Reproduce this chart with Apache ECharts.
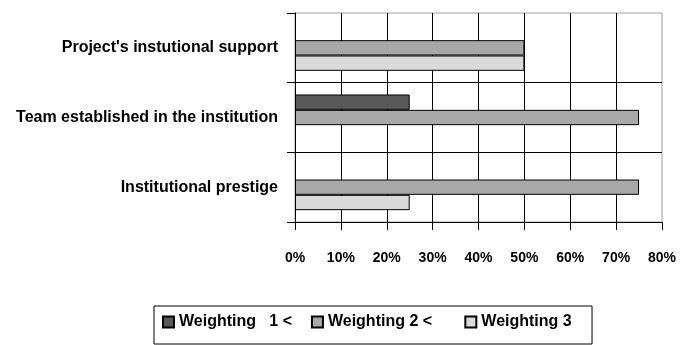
<!DOCTYPE html>
<html>
<head>
<meta charset="utf-8">
<script src="https://cdn.jsdelivr.net/npm/echarts@6/dist/echarts.min.js"></script>
<style>
  html, body { margin: 0; padding: 0; background: #fff; }
  #chart { width: 680px; height: 345px; }
</style>
</head>
<body>
<div id="chart"></div>
<script>
// Categories listed top to bottom
const categories = [
  "Project's instutional support",
  'Team established in the institution',
  'Institutional prestige'
];
const seriesNames = ['Weighting   1 <', 'Weighting 2 <', 'Weighting 3'];
const weighting1 = [0, 25, 0];
const weighting2 = [50, 75, 75];
const weighting3 = [50, 0, 25];
const xTicks = [0, 10, 20, 30, 40, 50, 60, 70, 80];

const FONT = "'Liberation Sans', Arial, sans-serif";
const colors = ['#595959', '#a8a8a8', '#dadada'];
// trailing space after each legend entry
const legendPads = ['  ', '     ', '   '];

const chart = echarts.init(document.getElementById('chart'), null, { renderer: 'canvas' });

// zero shares are left empty so no outline is drawn for them
const values = [weighting1, weighting2, weighting3].map(arr => arr.map(v => (v === 0 ? '-' : v)));

chart.setOption({
  animation: false,
  backgroundColor: '#fff',
  grid: {
    left: 295, right: 18, top: 13, bottom: 123,
    containLabel: false, outerBoundsMode: 'none',
    show: true, borderColor: '#a0a0a0', borderWidth: 1, backgroundColor: 'transparent'
  },
  xAxis: {
    type: 'value',
    min: xTicks[0],
    max: xTicks[xTicks.length - 1],
    interval: 10,
    axisLine: { show: true, lineStyle: { color: '#000', width: 1 } },
    axisTick: { show: true, length: 8, lineStyle: { color: '#000' } },
    axisLabel: {
      formatter: v => v + '%',
      color: '#000', fontFamily: FONT, fontWeight: 'bold', fontSize: 14, margin: 29
    },
    splitLine: { show: true, showMinLine: false, showMaxLine: false, lineStyle: { color: '#000', width: 1 } }
  },
  yAxis: {
    type: 'category',
    data: categories,
    inverse: true,
    axisLine: { show: true, lineStyle: { color: '#000', width: 1 } },
    axisTick: { show: true, length: 8, lineStyle: { color: '#000' } },
    axisLabel: {
      color: '#000', fontFamily: FONT, fontWeight: 'bold', fontSize: 16, margin: 17
    },
    splitLine: { show: true, showMinLine: false, showMaxLine: false, lineStyle: { color: '#000', width: 1 } }
  },
  legend: {
    left: 154, top: 306,
    padding: [8, 7, 14, 8],
    borderColor: '#000', borderWidth: 1,
    icon: 'rect', itemWidth: 11, itemHeight: 11, itemGap: 10,
    formatter: name => name + legendPads[seriesNames.indexOf(name)],
    textStyle: { color: '#000', fontFamily: FONT, fontWeight: 'bold', fontSize: 16 },
    data: seriesNames
  },
  series: seriesNames.map((name, i) => ({
    name,
    type: 'bar',
    data: values[i],
    barCategoryGap: '34%',
    barGap: '0%',
    itemStyle: { color: colors[i], borderColor: '#000', borderWidth: 1 }
  }))
});
</script>
</body>
</html>
